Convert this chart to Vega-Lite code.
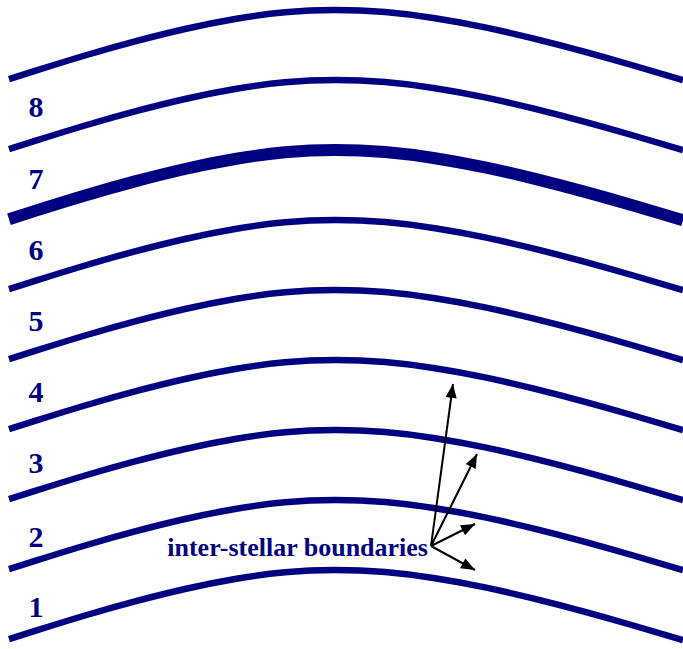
{
  "$schema": "https://vega.github.io/schema/vega-lite/v6.json",
  "width": 683,
  "height": 649,
  "padding": 0,
  "autosize": {"type": "none"},
  "background": "white",
  "config": {"view": {"stroke": null}},
  "datasets": {
    "curves": [
      {"c":0,"x":9,"y":79.2},{"c":0,"x":35,"y":70.9},{"c":0,"x":85,"y":55.5},{"c":0,"x":135,"y":41.4},{"c":0,"x":185,"y":29.0},{"c":0,"x":235,"y":19.0},{"c":0,"x":285,"y":12.3},{"c":0,"x":335,"y":10},{"c":0,"x":385,"y":12.1},{"c":0,"x":435,"y":18.2},{"c":0,"x":485,"y":27.4},{"c":0,"x":535,"y":38.9},{"c":0,"x":585,"y":51.9},{"c":0,"x":635,"y":66.0},{"c":0,"x":683,"y":80.2},
      {"c":1,"x":9,"y":149.2},{"c":1,"x":35,"y":140.9},{"c":1,"x":85,"y":125.5},{"c":1,"x":135,"y":111.4},{"c":1,"x":185,"y":99.0},{"c":1,"x":235,"y":89.0},{"c":1,"x":285,"y":82.3},{"c":1,"x":335,"y":80},{"c":1,"x":385,"y":82.1},{"c":1,"x":435,"y":88.2},{"c":1,"x":485,"y":97.4},{"c":1,"x":535,"y":108.9},{"c":1,"x":585,"y":121.9},{"c":1,"x":635,"y":136.0},{"c":1,"x":683,"y":150.2},
      {"c":2,"x":9,"y":219.2},{"c":2,"x":35,"y":210.9},{"c":2,"x":85,"y":195.5},{"c":2,"x":135,"y":181.4},{"c":2,"x":185,"y":169.0},{"c":2,"x":235,"y":159.0},{"c":2,"x":285,"y":152.3},{"c":2,"x":335,"y":150},{"c":2,"x":385,"y":152.1},{"c":2,"x":435,"y":158.2},{"c":2,"x":485,"y":167.4},{"c":2,"x":535,"y":178.9},{"c":2,"x":585,"y":191.9},{"c":2,"x":635,"y":206.0},{"c":2,"x":683,"y":220.2},
      {"c":3,"x":9,"y":289.2},{"c":3,"x":35,"y":280.9},{"c":3,"x":85,"y":265.5},{"c":3,"x":135,"y":251.4},{"c":3,"x":185,"y":239.0},{"c":3,"x":235,"y":229.0},{"c":3,"x":285,"y":222.3},{"c":3,"x":335,"y":220},{"c":3,"x":385,"y":222.1},{"c":3,"x":435,"y":228.2},{"c":3,"x":485,"y":237.4},{"c":3,"x":535,"y":248.9},{"c":3,"x":585,"y":261.9},{"c":3,"x":635,"y":276.0},{"c":3,"x":683,"y":290.2},
      {"c":4,"x":9,"y":359.2},{"c":4,"x":35,"y":350.9},{"c":4,"x":85,"y":335.5},{"c":4,"x":135,"y":321.4},{"c":4,"x":185,"y":309.0},{"c":4,"x":235,"y":299.0},{"c":4,"x":285,"y":292.3},{"c":4,"x":335,"y":290},{"c":4,"x":385,"y":292.1},{"c":4,"x":435,"y":298.2},{"c":4,"x":485,"y":307.4},{"c":4,"x":535,"y":318.9},{"c":4,"x":585,"y":331.9},{"c":4,"x":635,"y":346.0},{"c":4,"x":683,"y":360.2},
      {"c":5,"x":9,"y":429.2},{"c":5,"x":35,"y":420.9},{"c":5,"x":85,"y":405.5},{"c":5,"x":135,"y":391.4},{"c":5,"x":185,"y":379.0},{"c":5,"x":235,"y":369.0},{"c":5,"x":285,"y":362.3},{"c":5,"x":335,"y":360},{"c":5,"x":385,"y":362.1},{"c":5,"x":435,"y":368.2},{"c":5,"x":485,"y":377.4},{"c":5,"x":535,"y":388.9},{"c":5,"x":585,"y":401.9},{"c":5,"x":635,"y":416.0},{"c":5,"x":683,"y":430.2},
      {"c":6,"x":9,"y":499.2},{"c":6,"x":35,"y":490.9},{"c":6,"x":85,"y":475.5},{"c":6,"x":135,"y":461.4},{"c":6,"x":185,"y":449.0},{"c":6,"x":235,"y":439.0},{"c":6,"x":285,"y":432.3},{"c":6,"x":335,"y":430},{"c":6,"x":385,"y":432.1},{"c":6,"x":435,"y":438.2},{"c":6,"x":485,"y":447.4},{"c":6,"x":535,"y":458.9},{"c":6,"x":585,"y":471.9},{"c":6,"x":635,"y":486.0},{"c":6,"x":683,"y":500.2},
      {"c":7,"x":9,"y":569.2},{"c":7,"x":35,"y":560.9},{"c":7,"x":85,"y":545.5},{"c":7,"x":135,"y":531.4},{"c":7,"x":185,"y":519.0},{"c":7,"x":235,"y":509.0},{"c":7,"x":285,"y":502.3},{"c":7,"x":335,"y":500},{"c":7,"x":385,"y":502.1},{"c":7,"x":435,"y":508.2},{"c":7,"x":485,"y":517.4},{"c":7,"x":535,"y":528.9},{"c":7,"x":585,"y":541.9},{"c":7,"x":635,"y":556.0},{"c":7,"x":683,"y":570.2},
      {"c":8,"x":9,"y":639.2},{"c":8,"x":35,"y":630.9},{"c":8,"x":85,"y":615.5},{"c":8,"x":135,"y":601.4},{"c":8,"x":185,"y":589.0},{"c":8,"x":235,"y":579.0},{"c":8,"x":285,"y":572.3},{"c":8,"x":335,"y":570},{"c":8,"x":385,"y":572.1},{"c":8,"x":435,"y":578.2},{"c":8,"x":485,"y":587.4},{"c":8,"x":535,"y":598.9},{"c":8,"x":585,"y":611.9},{"c":8,"x":635,"y":626.0},{"c":8,"x":683,"y":640.2}
    ],
    "labels": [
      {"label":"8","x":36,"y":108},
      {"label":"7","x":36,"y":180},
      {"label":"6","x":36,"y":251},
      {"label":"5","x":36,"y":322},
      {"label":"4","x":36,"y":393},
      {"label":"3","x":36,"y":464},
      {"label":"2","x":36,"y":538},
      {"label":"1","x":36,"y":608}
    ],
    "caption": [
      {"text":"inter-stellar boundaries","x":428,"y":548}
    ],
    "arrows": [
      {"x":431,"y":546,"x2":453,"y2":384,"angle":7.7},
      {"x":431,"y":546,"x2":477,"y2":454,"angle":26.6},
      {"x":431,"y":546,"x2":475,"y2":524,"angle":63.4},
      {"x":431,"y":546,"x2":475,"y2":570,"angle":118.6}
    ]
  },
  "layer": [
    {
      "data": {"name": "curves"},
      "transform": [{"filter": "datum.c != 2"}],
      "mark": {"type": "line", "color": "#000080", "strokeWidth": 6.5, "interpolate": "natural", "strokeCap": "butt"},
      "encoding": {
        "x": {"field": "x", "type": "quantitative", "scale": {"domain": [0, 683], "nice": false, "zero": false}, "axis": null},
        "y": {"field": "y", "type": "quantitative", "scale": {"domain": [0, 649], "nice": false, "zero": false, "reverse": true}, "axis": null},
        "detail": {"field": "c"}
      }
    },
    {
      "data": {"name": "curves"},
      "transform": [{"filter": "datum.c == 2"}],
      "mark": {"type": "line", "color": "#000080", "strokeWidth": 12, "interpolate": "natural", "strokeCap": "butt"},
      "encoding": {
        "x": {"field": "x", "type": "quantitative"},
        "y": {"field": "y", "type": "quantitative"},
        "detail": {"field": "c"}
      }
    },
    {
      "data": {"name": "labels"},
      "mark": {"type": "text", "font": "Liberation Serif", "fontWeight": "bold", "fontSize": 30, "color": "#000080", "align": "center", "baseline": "middle"},
      "encoding": {
        "x": {"field": "x", "type": "quantitative"},
        "y": {"field": "y", "type": "quantitative"},
        "text": {"field": "label"}
      }
    },
    {
      "data": {"name": "caption"},
      "mark": {"type": "text", "font": "Liberation Serif", "fontWeight": "bold", "fontSize": 26, "color": "#000080", "align": "right", "baseline": "middle"},
      "encoding": {
        "x": {"field": "x", "type": "quantitative"},
        "y": {"field": "y", "type": "quantitative"},
        "text": {"field": "text"}
      }
    },
    {
      "data": {"name": "arrows"},
      "mark": {"type": "rule", "color": "black", "strokeWidth": 2},
      "encoding": {
        "x": {"field": "x", "type": "quantitative"},
        "y": {"field": "y", "type": "quantitative"},
        "x2": {"field": "x2"},
        "y2": {"field": "y2"}
      }
    },
    {
      "data": {"name": "arrows"},
      "mark": {"type": "point", "shape": "M0,0L0.8,2L-0.8,2Z", "filled": true, "color": "black", "opacity": 1, "size": 196, "strokeWidth": 0},
      "encoding": {
        "x": {"field": "x2", "type": "quantitative"},
        "y": {"field": "y2", "type": "quantitative"},
        "angle": {"field": "angle", "type": "quantitative", "scale": null}
      }
    }
  ]
}
